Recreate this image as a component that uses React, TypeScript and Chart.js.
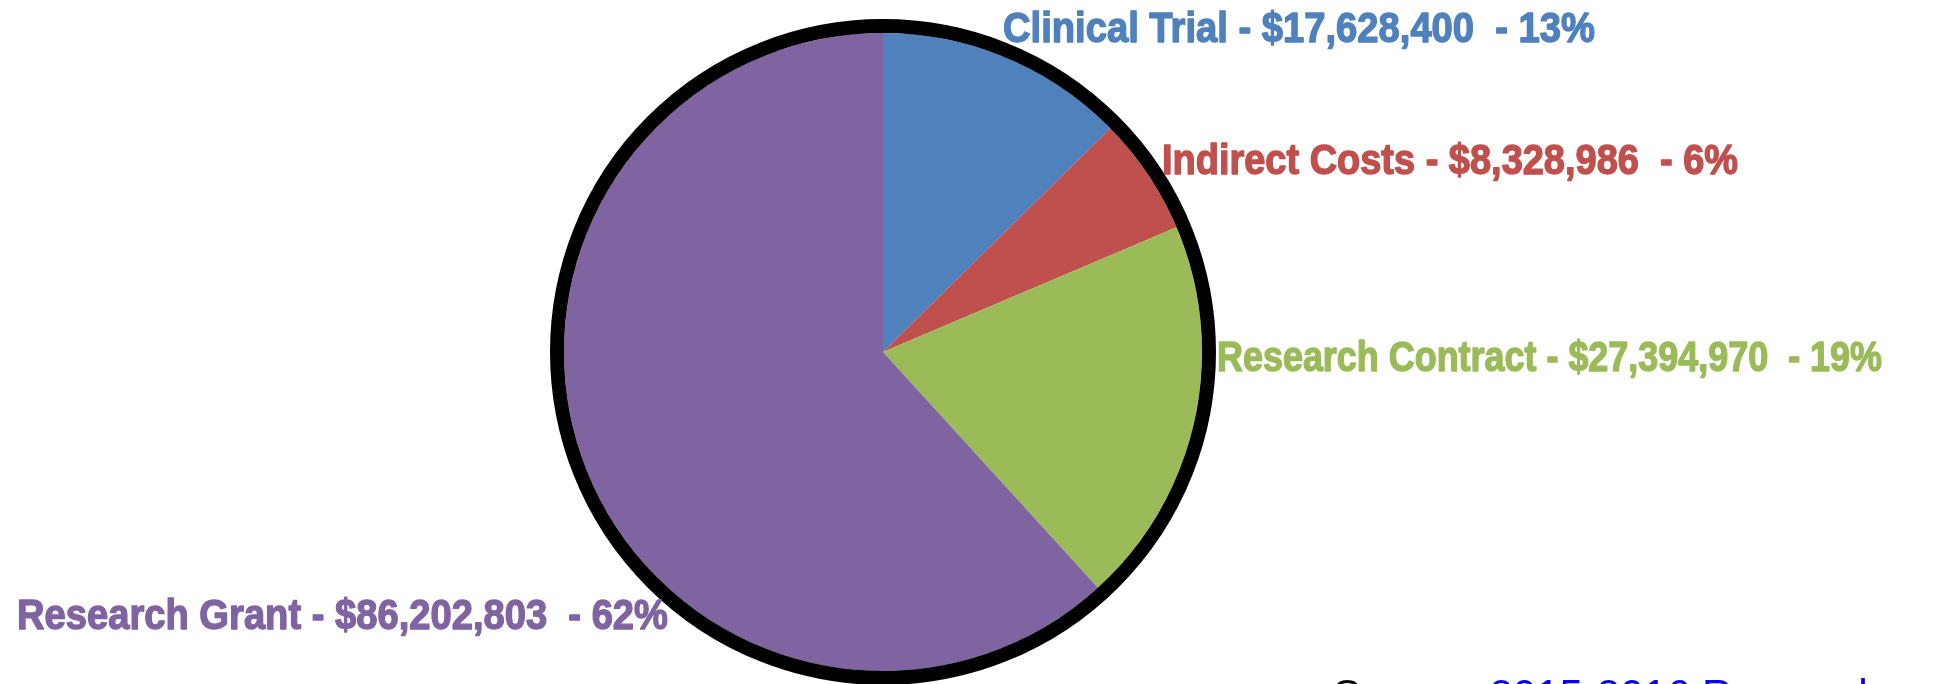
import React, { useEffect, useRef } from "react";
import { Chart, registerables } from "chart.js";

Chart.register(...registerables);

const categories = ["Clinical Trial", "Indirect Costs", "Research Contract", "Research Grant"];
const amounts = [17628400, 8328986, 27394970, 86202803];
const amountLabels = ["$17,628,400", "$8,328,986", "$27,394,970", "$86,202,803"];
const percentLabels = ["13%", "6%", "19%", "62%"];
const colors = ["#4F81BD", "#C0504D", "#9BBB59", "#8064A2"];
const sourceLabel = "Source: ";
const sourceLink = "2015-2016 Research";

// label layout: left x, baseline y, target width (canvas pixels)
const labelPos = [
  [1003, 42, 592],
  [1162, 174, 576],
  [1217, 371, 665],
  [17, 629, 651],
];

export default function App() {
  const ref = useRef<HTMLCanvasElement>(null);

  useEffect(() => {
    document.body.style.margin = "0";
    const canvas = ref.current!;
    const ringPlugin = {
      id: "ring",
      afterDatasetsDraw(chart: any) {
        const arc = chart.getDatasetMeta(0).data[0];
        if (!arc) return;
        const { x, y, outerRadius } = arc.getProps(["x", "y", "outerRadius"], true);
        const ctx = chart.ctx;
        ctx.save();
        ctx.beginPath();
        ctx.arc(x, y, outerRadius + 7, 0, Math.PI * 2);
        ctx.lineWidth = 14;
        ctx.strokeStyle = "#000";
        ctx.stroke();
        ctx.restore();
      },
    };
    const labelPlugin = {
      id: "labels",
      afterDraw(chart: any) {
        const ctx = chart.ctx;
        ctx.save();
        ctx.font = 'bold 42px "Liberation Sans Narrow", "Liberation Sans", sans-serif';
        ctx.textBaseline = "alphabetic";
        ctx.lineJoin = "round";
        const texts = categories.map(
          (c, i) => `${c} - ${amountLabels[i]}  - ${percentLabels[i]}`
        );
        texts.forEach((t, i) => {
          const w = ctx.measureText(t).width;
          const sx = labelPos[i][2] / w;
          ctx.save();
          ctx.translate(labelPos[i][0], labelPos[i][1]);
          ctx.scale(sx, 1);
          ctx.fillStyle = colors[i];
          ctx.strokeStyle = colors[i];
          ctx.lineWidth = 1.4;
          ctx.fillText(t, 0, 0);
          ctx.strokeText(t, 0, 0);
          ctx.restore();
        });
        ctx.font = '42px "Liberation Sans", Arial, sans-serif';
        ctx.fillStyle = "#000";
        ctx.fillText(sourceLabel, 1333, 709);
        const sw = ctx.measureText(sourceLabel).width;
        ctx.fillStyle = "#0000FF";
        ctx.fillText(sourceLink, 1333 + sw, 709);
        ctx.restore();
      },
    };
    const chart = new Chart(canvas, {
      type: "pie",
      data: {
        labels: categories,
        datasets: [
          {
            data: amounts,
            backgroundColor: colors,
            borderWidth: 0,
          },
        ],
      },
      options: {
        animation: false,
        responsive: false,
        rotation: 0,
        layout: { padding: { top: 33, bottom: 13, left: 564, right: 749 } },
        plugins: {
          legend: { display: false },
          tooltip: { enabled: false },
        },
      },
      plugins: [ringPlugin, labelPlugin],
    });
    return () => chart.destroy();
  }, []);

  return (
    <div style={{ position: "fixed", left: 0, top: 0, width: 1951, height: 684, background: "#fff" }}>
      <canvas ref={ref} width={1951} height={684} style={{ width: 1951, height: 684, display: "block" }} />
    </div>
  );
}
